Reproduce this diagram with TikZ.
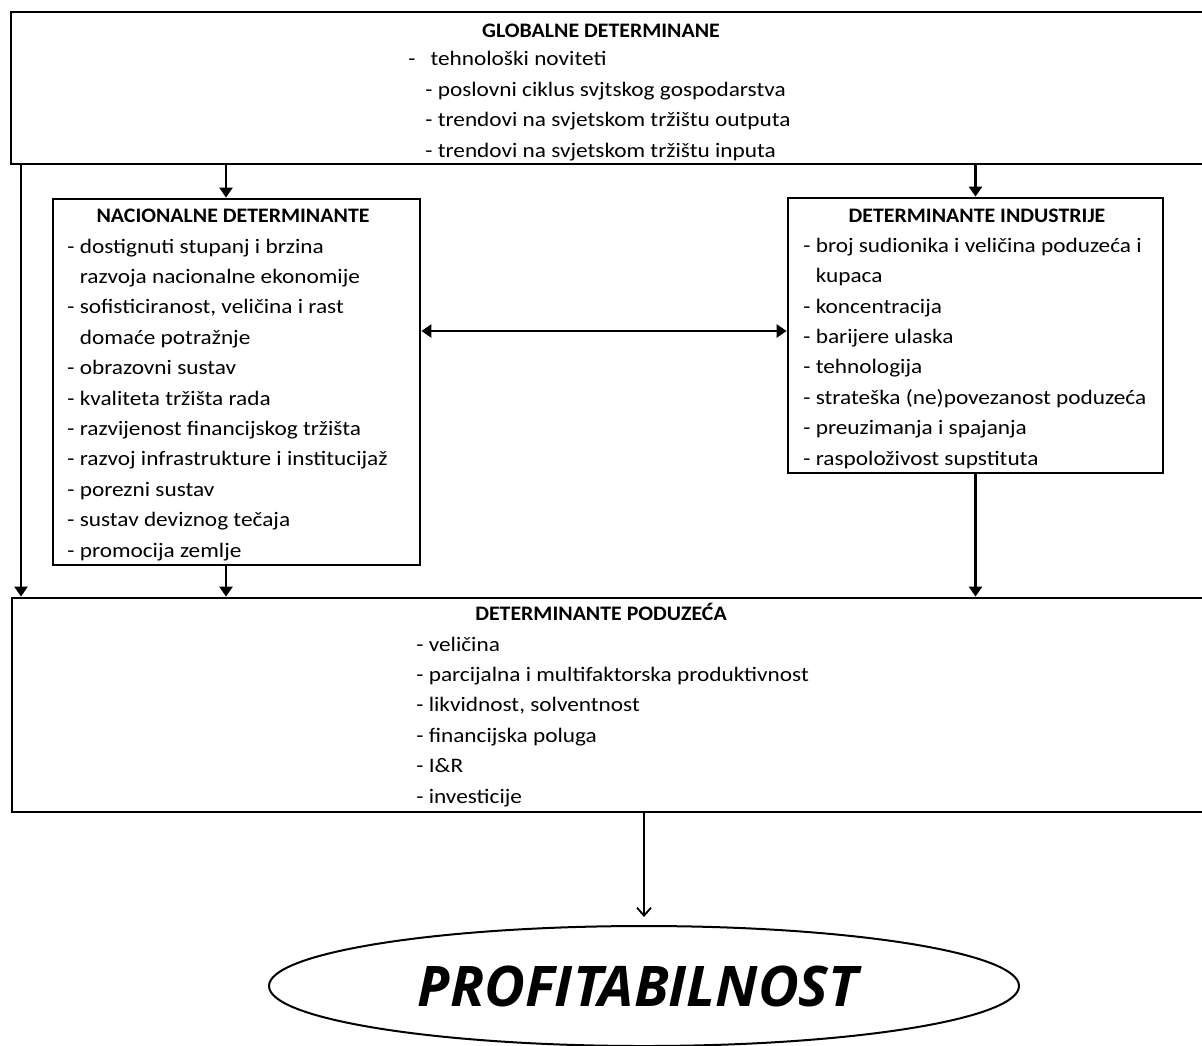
\documentclass[tikz,border=0pt]{standalone}
\usepackage{fontspec}
\setmainfont{Carlito}[FakeStretch=1.13]
\newfontfamily\naslovfont{Carlito}[FakeStretch=1.06]
\newfontfamily\profitfont{Open Sans}
\usetikzlibrary{arrows.meta,shapes.geometric,fit}

\begin{document}
\begin{tikzpicture}[x=0.5pt,y=-0.5pt,
    box/.style={draw,line width=1.4pt,inner sep=0pt},
    boxtitle/.style={font=\naslovfont\fontsize{10.3}{15.2}\selectfont\bfseries,inner sep=0pt,anchor=base},
    boxlist/.style={font=\fontsize{10.3}{15.2}\selectfont,align=left,inner sep=0pt,anchor=base west},
    arr/.style={line width=1.3pt,-{Triangle[length=5pt,width=6.5pt]}},
    dblarr/.style={line width=1.3pt,{Triangle[length=5pt,width=6.5pt]}-{Triangle[length=5pt,width=6.5pt]}},
    thinarr/.style={line width=0.9pt,-{Straight Barb[length=4pt,width=7pt]},shorten >=4pt}]

  \useasboundingbox (0,0) rectangle (1202,1045);
  \clip (0,0) rectangle (1202,1045);

  % okviri
  \node[box,fit={(11,12) (1215,164)}] (glob) {};
  \node[box,fit={(53,199) (420,565)}] (nac) {};
  \node[box,fit={(788,198) (1163,473)}] (ind) {};
  \node[box,fit={(12,598) (1215,812)}] (podu) {};
  \node[draw,ellipse,line width=1pt,minimum width=375pt,minimum height=60pt,inner sep=0pt] (profit) at (644,986)
    {\profitfont\fontsize{28}{30}\selectfont\bfseries\itshape PROFITABILNOST\hspace*{6pt}};

  % tekst (sidro je osnovna linija zadnjeg retka)
  \node[boxtitle] (globtitle) at (601,37) {GLOBALNE DETERMINANE};
  \node[boxlist] (globlist) at (425,157) {\hspace*{-8.5pt}-\hspace{7.5pt}tehnološki noviteti\\
    - poslovni ciklus svjtskog gospodarstva\\
    - trendovi na svjetskom tržištu outputa\\
    - trendovi na svjetskom tržištu inputa};

  \node[boxtitle] (nactitle) at (233,222) {NACIONALNE DETERMINANTE};
  \node[boxlist] (naclist) at (67,557) {- dostignuti stupanj i brzina\\
    \phantom{- }razvoja nacionalne ekonomije\\
    - sofisticiranost, veličina i rast\\
    \phantom{- }domaće potražnje\\
    - obrazovni sustav\\
    - kvaliteta tržišta rada\\
    - razvijenost financijskog tržišta\\
    - razvoj infrastrukture i institucijaž\\
    - porezni sustav\\
    - sustav deviznog tečaja\\
    - promocija zemlje};

  \node[boxtitle] (indtitle) at (977,222) {DETERMINANTE INDUSTRIJE};
  \node[boxlist] (indlist) at (803,465) {- broj sudionika i veličina poduzeća i\\
    \phantom{- }kupaca\\
    - koncentracija\\
    - barijere ulaska\\
    - tehnologija\\
    - strateška (ne)povezanost poduzeća\\
    - preuzimanja i spajanja\\
    - raspoloživost supstituta};

  \node[boxtitle] (podutitle) at (601,620) {DETERMINANTE PODUZEĆA};
  \node[boxlist] (podulist) at (416,803) {- veličina\\
    - parcijalna i multifaktorska produktivnost\\
    - likvidnost, solventnost\\
    - financijska poluga\\
    - I\&R\\
    - investicije};

  % strelice
  \coordinate (lijevo) at (21,0);
  \coordinate (nacx) at (226,0);
  \coordinate (veza) at (0,331);
  \draw[arr] (glob.south -| nacx) -- (nac.north -| nacx);
  \draw[arr] (glob.south -| ind.north) -- (ind.north);
  \draw[arr] (glob.south -| lijevo) -- (podu.north -| lijevo);
  \draw[arr] (nac.south -| nacx) -- (podu.north -| nacx);
  \draw[arr] (ind.south) -- (podu.north -| ind.south);
  \draw[dblarr] (nac.east |- veza) -- (ind.west |- veza);
  \draw[thinarr] (podu.south -| profit.north) -- (profit.north);

\end{tikzpicture}
\end{document}
